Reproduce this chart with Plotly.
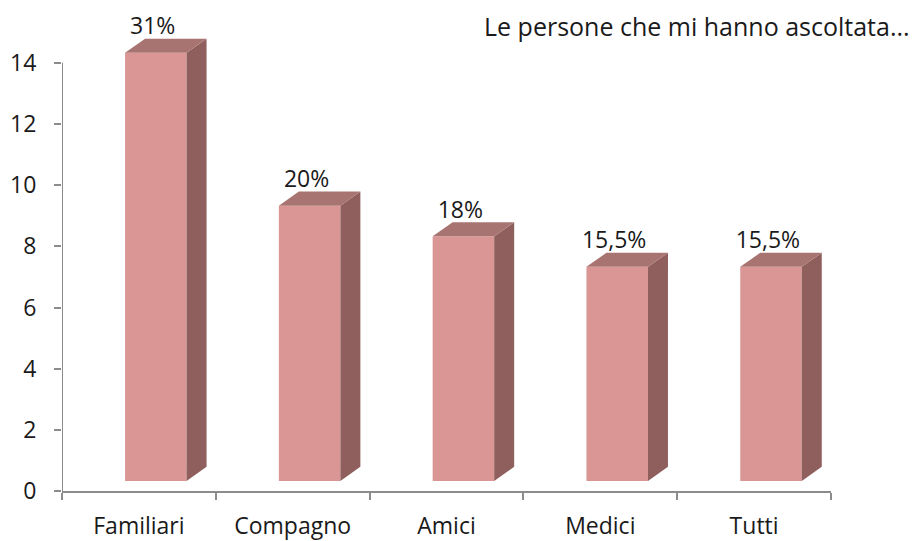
import plotly.graph_objects as go

categories = ["Familiari", "Compagno", "Amici", "Medici", "Tutti"]
values = [14, 9, 8, 7, 7]
labels = ["31%", "20%", "18%", "15,5%", "15,5%"]
y_ticks = [0, 2, 4, 6, 8, 10, 12, 14]

FRONT = "#D99694"
SIDE = "#8F5F5D"
TOP = "#A87472"
AXIS = "#8C8C8C"
FONT = "Open Sans"
TXT = "#1a1a1a"

base = 0.33      # front face lifted off the floor
x0, x1 = -0.09, 0.31   # front face horizontal extent relative to category index
dx, dy = 0.13, 0.46    # depth offset

fig = go.Figure()

xs = list(range(len(categories)))

# front faces
fig.add_trace(go.Bar(
    x=[i + (x0 + x1) / 2 for i in xs], y=values, base=[base] * len(values),
    width=x1 - x0, marker=dict(color=FRONT, line=dict(width=0)),
    hoverinfo="skip", showlegend=False))

for i, v in zip(xs, values):
    top = base + v
    # side face
    fig.add_trace(go.Scatter(
        x=[i + x1, i + x1 + dx, i + x1 + dx, i + x1, i + x1],
        y=[base, base + dy, top + dy, top, base],
        fill="toself", fillcolor=SIDE, mode="lines", line=dict(width=0),
        hoverinfo="skip", showlegend=False))
    # top face
    fig.add_trace(go.Scatter(
        x=[i + x0, i + x1, i + x1 + dx, i + x0 + dx, i + x0],
        y=[top, top, top + dy, top + dy, top],
        fill="toself", fillcolor=TOP, mode="lines", line=dict(width=0),
        hoverinfo="skip", showlegend=False))

# data labels
fig.add_trace(go.Scatter(
    x=[i + 0.09 for i in xs], y=[base + v + dy - 0.04 for v in values],
    mode="text", text=labels, textposition="top center",
    textfont=dict(family=FONT, size=23, color=TXT),
    cliponaxis=False, hoverinfo="skip", showlegend=False))

# value axis line up to max tick
fig.add_shape(type="line", xref="x", yref="y", x0=-0.5, x1=-0.5, y0=0, y1=max(y_ticks),
              line=dict(color=AXIS, width=2))

# the page body has an 8px margin, so the figure is 8px smaller and shifted
fig.update_layout(
    width=914, height=533,
    margin=dict(l=54, r=91, t=9, b=50),
    paper_bgcolor="white", plot_bgcolor="white",
    font=dict(family=FONT, size=23, color=TXT),
    xaxis=dict(range=[-0.5, len(categories) - 0.5], tickvals=xs, ticktext=categories,
               showline=True, linecolor=AXIS, linewidth=2, ticks="", showgrid=False,
               zeroline=False, ticklabelstandoff=13, automargin=False,
               tickfont=dict(family=FONT, size=23, color=TXT),
               minor=dict(tickvals=[i - 0.5 for i in range(len(categories) + 1)],
                          ticks="outside", ticklen=7, tickwidth=2, tickcolor=AXIS,
                          showgrid=False)),
    yaxis=dict(range=[0, 15.5], tickvals=y_ticks, showline=False, showgrid=False,
               zeroline=False, ticks="outside", ticklen=7, tickwidth=2, tickcolor=AXIS,
               ticklabelstandoff=13, automargin=False,
               tickfont=dict(family=FONT, size=23, color=TXT)),
    annotations=[dict(text="Le persone che mi hanno ascoltata...", xref="paper", yref="paper",
                      x=(482 - 62) / 769, y=(491 - 26) / 474, xanchor="left",
                      yanchor="middle", showarrow=False,
                      font=dict(family=FONT, size=25, color=TXT))],
)

fig.write_html("out.html")
